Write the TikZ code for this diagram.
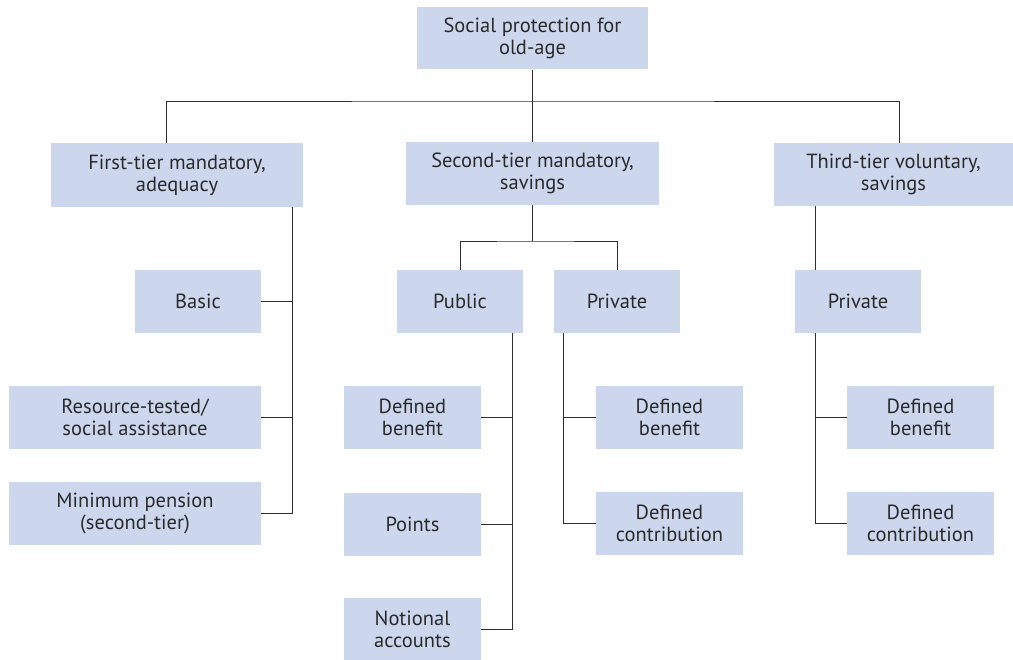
\documentclass[tikz,border=0pt]{standalone}
\usepackage{fontspec}
\setmainfont{PT Sans}
\usepackage{xcolor}
\usetikzlibrary{positioning}

\definecolor{boxblue}{HTML}{CCD6EC}
\definecolor{textgray}{HTML}{2A2A2A}
\definecolor{linegray}{HTML}{2E2E2E}

\begin{document}
\begin{tikzpicture}[x=1pt,y=-1pt,
  box/.style={fill=boxblue,text=textgray,align=center,inner sep=0pt,
    font=\fontsize{20.5}{22}\selectfont},
  link/.style={draw=linegray,line width=0.95pt}]

\useasboundingbox (0,0) rectangle (1013,660) ;

% top level
\node[box,minimum width=231,minimum height=62] (top) at (532.5,38.5) {Social protection for\\old-age} ;

% the three tiers
\node[box,minimum width=252,minimum height=64] (first) at (177,175) {First-tier mandatory,\\adequacy} ;
\node[box,minimum width=253,minimum height=63] (second) at (532.5,173.5) {Second-tier mandatory,\\savings} ;
\node[box,minimum width=239,minimum height=63] (third) at (893.5,174.5) {Third-tier voluntary,\\savings} ;

% first tier
\node[box,minimum width=126,minimum height=63] (basic) at (198,301.5) {Basic} ;
\node[box,minimum width=252,minimum height=63] (restest) at (135,417.5) {Resource-tested/\\social assistance} ;
\node[box,minimum width=252,minimum height=63] (minpens) at (135,513.5) {Minimum pension\\(second-tier)} ;

% second tier
\node[box,minimum width=126,minimum height=63] (public) at (460,301.5) {Public} ;
\node[box,minimum width=126,minimum height=63] (privtwo) at (617,301.5) {Private} ;
\node[box,minimum width=137,minimum height=63] (pubdb) at (412.5,417.5) {Defined\\benefit} ;
\node[box,minimum width=137,minimum height=63] (points) at (412.5,524) {Points} ;
\node[box,minimum width=137,minimum height=62] (notional) at (412.5,629) {Notional\\accounts} ;
\node[box,minimum width=147,minimum height=63] (privdb) at (669.5,417.5) {Defined\\benefit} ;
\node[box,minimum width=147,minimum height=63] (privdc) at (669.5,523.5) {Defined\\contribution} ;

% third tier
\node[box,minimum width=126,minimum height=63] (privthree) at (858,301.5) {Private} ;
\node[box,minimum width=147,minimum height=63] (thrdb) at (920.5,417.5) {Defined\\benefit} ;
\node[box,minimum width=147,minimum height=63] (thrdc) at (920.5,523.5) {Defined\\contribution} ;

% connectors
\coordinate (topbus) at (532.5,101) ;
\draw[link] (top.south) -- (topbus) ;
\draw[link] ([xshift=-11pt]first.north) |- (topbus) -| ([xshift=5.5pt]third.north) ;
\draw[link] (topbus) -- (second.north) ;

\coordinate (trunkone) at ([xshift=-11pt]first.south east) ;
\draw[link] (trunkone) |- (minpens.east) ;
\draw[link] (basic.east) -- (basic.east -| trunkone) ;
\draw[link] (restest.east) -- (restest.east -| trunkone) ;

\coordinate (secbus) at (532.5,241) ;
\draw[link] (second.south) -- (secbus) ;
\draw[link] (public.north) |- (secbus) -| (privtwo.north) ;

\coordinate (trunkpub) at ([xshift=-11pt]public.south east) ;
\draw[link] (trunkpub) |- (notional.east) ;
\draw[link] (pubdb.east) -- (pubdb.east -| trunkpub) ;
\draw[link] (points.east) -- (points.east -| trunkpub) ;

\coordinate (trunkpriv) at ([xshift=10pt]privtwo.south west) ;
\draw[link] (trunkpriv) |- (privdc.west) ;
\draw[link] (privdb.west) -- (privdb.west -| trunkpriv) ;

\coordinate (trunkthree) at ([xshift=21pt]privthree.south west) ;
\draw[link] ([xshift=42pt]third.south west) -- ([xshift=21pt]privthree.north west) ;
\draw[link] (trunkthree) |- (thrdc.west) ;
\draw[link] (thrdb.west) -- (thrdb.west -| trunkthree) ;

\end{tikzpicture}
\end{document}
